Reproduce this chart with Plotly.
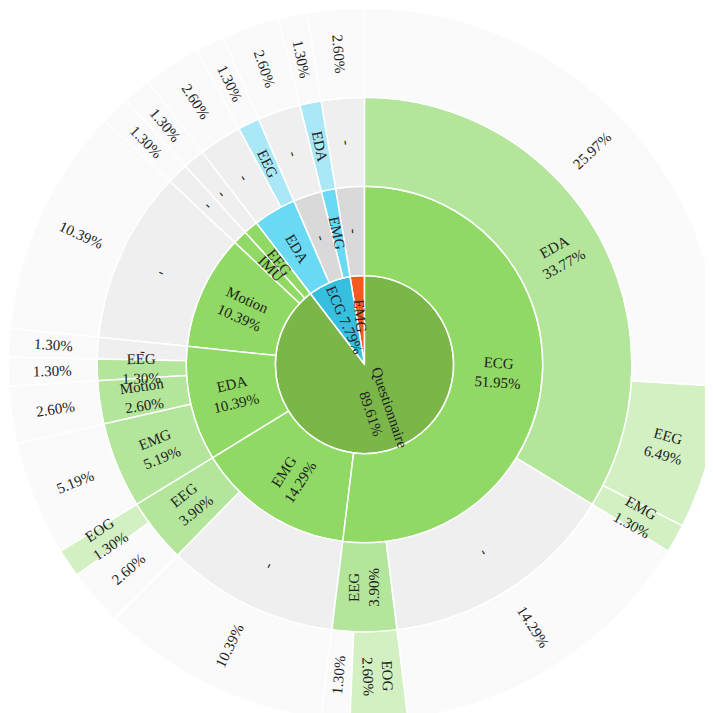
import math
import plotly.graph_objects as go

# ---- data (leaf paths: level1 / level2 / level3 / level4, count) ----
level1 = ["Questionnaire"] * 16 + ["ECG"] * 4 + ["EMG"]
level2 = ["ECG", "ECG", "ECG", "ECG", "ECG", "ECG",
          "EMG", "EMG", "EMG",
          "EDA", "EDA", "EDA", "EDA",
          "Motion", "IMU", "EEG",
          "EDA", "EDA", "-", "EMG",
          "-"]
level3 = ["EDA", "EDA", "EDA", "-", "EEG", "EEG",
          "-", "EEG", "EEG",
          "EMG", "Motion", "EEG", "-",
          "-", "-", "-",
          "-", "EEG", "-", "EDA",
          "-"]
level4 = ["", "EEG", "EMG", "", "EOG", "",
          "", "", "EOG",
          "", "", "", "",
          "", "", "",
          "", "", "", "",
          ""]
counts = [20, 5, 1, 11, 2, 1,
          8, 2, 1,
          4, 2, 1, 1,
          8, 1, 1,
          2, 1, 2, 1,
          2]

# nodes whose text shows the label only / label and percent on one line
label_only = ["EMG", "Questionnaire/IMU", "Questionnaire/EEG",
              "ECG/EDA", "ECG/EMG", "ECG/EDA/EEG", "ECG/EMG/EDA"]
one_line = ["ECG"]

FONT = dict(family="Liberation Serif, Times New Roman, serif", size=15, color="#222222")

# ---- build hierarchy ----
total = sum(counts)
ids, labels, parents, values, depth, family = [], [], [], [], [], []
index = {}
for l1, l2, l3, l4, c in zip(level1, level2, level3, level4, counts):
    path = [l1, l2, l3, l4]
    for d in range(4):
        nid = "/".join(path[:d + 1])
        if nid not in index:
            index[nid] = len(ids)
            ids.append(nid)
            labels.append(path[d] if path[d] else " ")
            parents.append("/".join(path[:d]) if d > 0 else "")
            values.append(0)
            depth.append(d + 1)
            family.append(l1)
        values[index[nid]] += c

palette = {
    "Questionnaire": ["#7ab648", "#8fd964", "#b3e69b", "#d3f0c3"],
    "ECG": ["#37bfe0", "#6ad9f3", "#aae8f7", "#d6f4fb"],
    "EMG": ["#f5591f", "#f89a70", "#fbc4a8", "#fde2d4"],
}
colors, texts = [], []
for nid, lab, v, d, fam in zip(ids, labels, values, depth, family):
    pct = f"{v / total * 100:.2f}%"
    if lab == "-":
        colors.append("#d9d9d9" if d == 2 else "#efefef")
        texts.append("-")
    elif lab == " ":
        colors.append("#fafafa")
        texts.append(pct)
    else:
        colors.append(palette[fam][d - 1])
        if nid in label_only:
            texts.append(lab)
        elif nid in one_line:
            texts.append(f"{lab} {pct}")
        else:
            texts.append(f"{lab}<br>{pct}")

# angular extent of every slice (clockwise from 12 o'clock, data order)
start, offset = {}, {"": 0.0}
for nid, par, v in zip(ids, parents, values):
    start[nid] = offset[par]
    offset[par] += v / total * 360.0
    offset[nid] = start[nid]

# labels: radial, at the middle of each slice, drawn above all slices
annotations = []
for nid, v, d, txt in zip(ids, values, depth, texts):
    s = start[nid]
    mid = round(s + v / total * 180.0, 6)
    rf = ((d - 0.45) if d == 1 else (d - 0.5)) / 4 * 0.5
    ang = mid - 90 if mid < 180 else mid - 270
    annotations.append(dict(
        x=0.5 + rf * math.sin(math.radians(mid)),
        y=0.5 + rf * math.cos(math.radians(mid)),
        xref="paper", yref="paper", text=txt, showarrow=False,
        textangle=ang, font=FONT, xanchor="center", yanchor="middle"))

# sunburst runs counter-clockwise: reverse sibling order so the
# slices read clockwise from 12 o'clock
rev = lambda a: a[::-1]
fig = go.Figure(go.Sunburst(
    ids=rev(ids), labels=rev(labels), parents=rev(parents), values=rev(values),
    branchvalues="total",
    textinfo="none",
    marker=dict(colors=rev(colors), line=dict(color="#ffffff", width=1.5)),
    rotation=90,
    sort=False,
    leaf=dict(opacity=1),
    domain=dict(x=[0, 1], y=[0, 1]),
))
fig.update_layout(width=713, height=713, margin=dict(l=0, r=0, t=0, b=0),
                  paper_bgcolor="#ffffff",
                  annotations=annotations)
fig.write_html("out.html")
